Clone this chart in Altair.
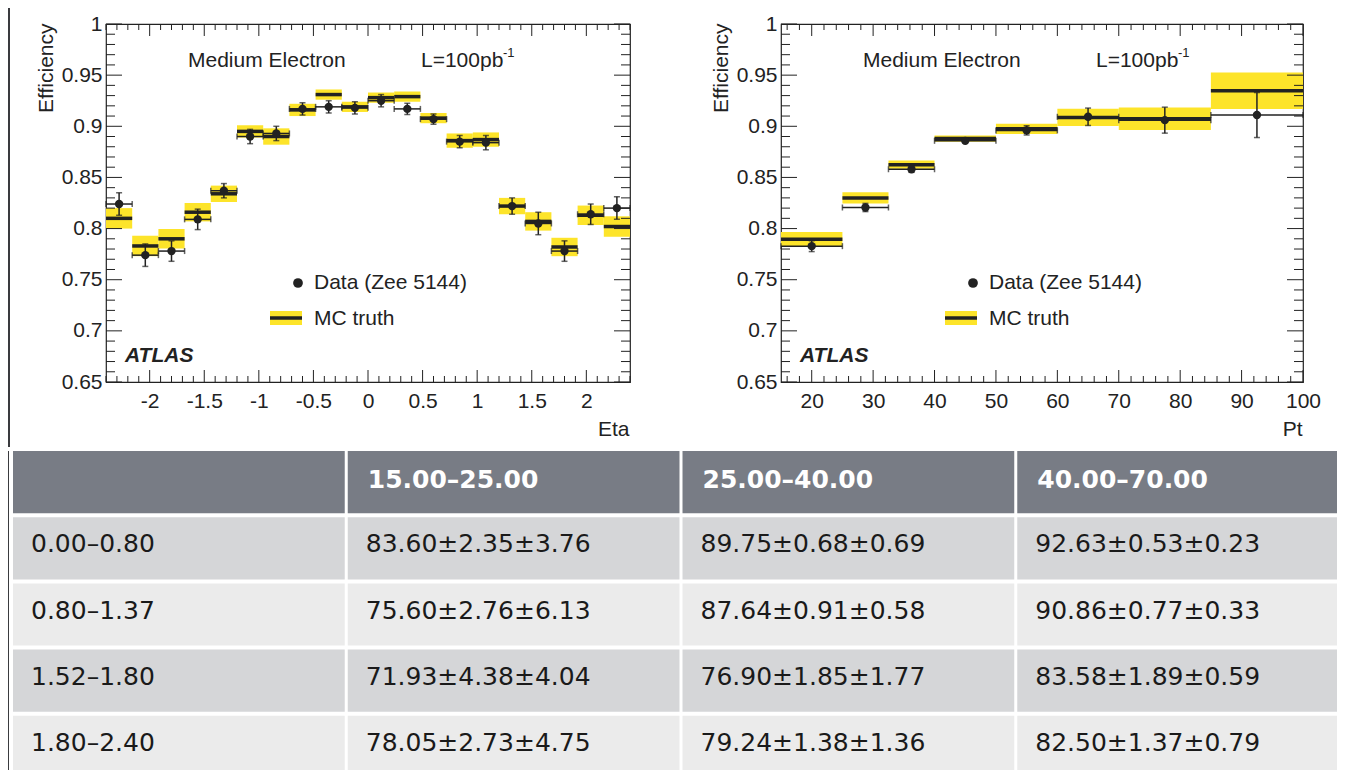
import altair as alt
import pandas as pd
import numpy as np

# ---------------- efficiency vs eta ----------------
eta_edges = [-2.4, -2.16, -1.92, -1.68, -1.44, -1.2, -0.96, -0.72, -0.48, -0.24, 0.0,
             0.24, 0.48, 0.72, 0.96, 1.2, 1.44, 1.68, 1.92, 2.16, 2.4]
eta_mc = [0.810, 0.783, 0.790, 0.816, 0.834, 0.895, 0.890, 0.916, 0.931, 0.919,
          0.928, 0.929, 0.908, 0.886, 0.887, 0.822, 0.807, 0.782, 0.813, 0.802]
eta_mc_err = [0.010, 0.010, 0.0095, 0.009, 0.008, 0.006, 0.008, 0.006, 0.005, 0.005,
              0.005, 0.005, 0.005, 0.007, 0.007, 0.008, 0.009, 0.009, 0.0095, 0.010]
eta_data = [0.824, 0.774, 0.778, 0.809, 0.837, 0.890, 0.893, 0.917, 0.919, 0.918,
            0.925, 0.917, 0.907, 0.885, 0.884, 0.822, 0.805, 0.778, 0.814, 0.820]
eta_data_err = [0.011, 0.011, 0.010, 0.010, 0.007, 0.007, 0.007, 0.006, 0.006, 0.006,
                0.006, 0.0055, 0.005, 0.006, 0.007, 0.008, 0.011, 0.010, 0.010, 0.011]

# ---------------- efficiency vs pt ----------------
pt_edges = [15, 25, 32.5, 40, 50, 60, 70, 85, 100]
pt_mc = [0.7895, 0.830, 0.8625, 0.888, 0.8975, 0.9087, 0.9073, 0.9347]
pt_mc_err = [0.0072, 0.0054, 0.004, 0.003, 0.005, 0.0085, 0.011, 0.0178]
pt_data = [0.7828, 0.8206, 0.858, 0.8858, 0.896, 0.9093, 0.906, 0.911]
pt_data_err = [0.0053, 0.004, 0.003, 0.0015, 0.0045, 0.0085, 0.0127, 0.022]

# ---------------- axis ticks / labels ----------------
eff_ticks = [0.65, 0.7, 0.75, 0.8, 0.85, 0.9, 0.95, 1.0]
eta_ticks = [-2, -1.5, -1, -0.5, 0, 0.5, 1, 1.5, 2]
pt_ticks = [20, 30, 40, 50, 60, 70, 80, 90, 100]

# ---------------- table ----------------
table_columns = ["15.00–25.00", "25.00–40.00", "40.00–70.00"]
table_rows = ["0.00–0.80", "0.80–1.37", "1.52–1.80", "1.80–2.40"]
table_cells = [
    ["83.60±2.35±3.76", "89.75±0.68±0.69", "92.63±0.53±0.23"],
    ["75.60±2.76±6.13", "87.64±0.91±0.58", "90.86±0.77±0.33"],
    ["71.93±4.38±4.04", "76.90±1.85±1.77", "83.58±1.89±0.59"],
    ["78.05±2.73±4.75", "79.24±1.38±1.36", "82.50±1.37±0.79"],
]

ROOT_FONT = "Liberation Sans"
TABLE_FONT = "DejaVu Sans"
INK = "#222222"
YELLOW = "#fde42a"
DARK = "#3a3b3f"
HEADER = "#787c85"
ROW_A = "#d5d6d8"
ROW_B = "#ebebeb"

H = 358
one = pd.DataFrame({"k": [0]})


def minor_ticks(lo, hi, step, majors_step):
    vals = np.round(np.arange(lo, hi + step / 2, step), 4)
    return [float(v) for v in vals if abs(v / majors_step - round(v / majors_step)) > 1e-6]


def make_plot(edges, mc, mc_err, dat, dat_err, xdom, xmajor, xminor, xtitle, W):
    df = pd.DataFrame({
        "lo": edges[:-1], "hi": edges[1:],
        "mid": [(a + b) / 2 for a, b in zip(edges[:-1], edges[1:])],
        "mc": mc, "mc_err": mc_err, "d": dat, "d_err": dat_err,
    })
    df["mc_lo"] = df["mc"] - df["mc_err"]
    df["mc_hi"] = df["mc"] + df["mc_err"]
    df["d_lo"] = df["d"] - df["d_err"]
    df["d_hi"] = df["d"] + df["d_err"]

    xs = alt.Scale(domain=xdom, nice=False, zero=False)
    ys = alt.Scale(domain=[0.65, 1.0], nice=False, zero=False)
    xaxis = alt.Axis(values=xmajor, labelExpr="toString(datum.value)", ticks=False, tickSize=0,
                     domain=False, grid=False, labelFont=ROOT_FONT, labelFontSize=21,
                     labelColor=INK, labelPadding=8, labelFlush=False, labelOverlap=False,
                     title=xtitle, titleFont=ROOT_FONT, titleFontSize=21, titleFontWeight="normal",
                     titleColor=INK, titleAlign="right", titleBaseline="alphabetic",
                     titleAngle=0, titleX=W - 1, titleY=53)
    yaxis = alt.Axis(values=eff_ticks, labelExpr="toString(datum.value)", ticks=False, tickSize=0,
                     domain=False, grid=False, labelFont=ROOT_FONT, labelFontSize=21,
                     labelColor=INK, labelPadding=4, labelFlush=False, labelOverlap=False,
                     title="Efficiency", titleFont=ROOT_FONT, titleFontSize=21,
                     titleFontWeight="normal", titleColor=INK, titleAngle=270,
                     titleAlign="right", titleBaseline="middle", titleX=-60, titleY=-1)

    base = alt.Chart(df)
    X = lambda f: alt.X(f, scale=xs, axis=xaxis)
    Y = lambda f: alt.Y(f, scale=ys, axis=yaxis)

    band = base.mark_rect(color=YELLOW).encode(x=X("lo:Q"), x2="hi", y=Y("mc_lo:Q"), y2="mc_hi")
    mcline = base.mark_rule(color=INK, strokeWidth=3.5).encode(x=X("lo:Q"), x2="hi", y=Y("mc:Q"))
    dxbar = base.mark_rule(color=INK, strokeWidth=1.5).encode(x=X("lo:Q"), x2="hi", y=Y("d:Q"))
    dybar = base.mark_rule(color=INK, strokeWidth=1.5).encode(x=X("mid:Q"), y=Y("d_lo:Q"), y2="d_hi")
    cap_lo = base.mark_tick(orient="horizontal", size=6, thickness=1.5, color=INK).encode(
        x=X("mid:Q"), y=Y("d_lo:Q"))
    cap_hi = base.mark_tick(orient="horizontal", size=6, thickness=1.5, color=INK).encode(
        x=X("mid:Q"), y=Y("d_hi:Q"))
    cap_l = base.mark_tick(orient="vertical", size=6, thickness=1.5, color=INK).encode(
        x=X("lo:Q"), y=Y("d:Q"))
    cap_r = base.mark_tick(orient="vertical", size=6, thickness=1.5, color=INK).encode(
        x=X("hi:Q"), y=Y("d:Q"))
    pts = base.mark_point(filled=True, size=70, color=INK, opacity=1).encode(
        x=X("mid:Q"), y=Y("d:Q"))

    # inward frame ticks
    xmaj = alt.Chart(pd.DataFrame({"v": xmajor}))
    xmin = alt.Chart(pd.DataFrame({"v": xminor}))
    ymaj = alt.Chart(pd.DataFrame({"v": eff_ticks}))
    ymin = alt.Chart(pd.DataFrame({"v": minor_ticks(0.65, 1.0, 0.01, 0.05)}))
    tk = dict(color=INK, strokeWidth=1)
    ticks = [
        xmaj.mark_rule(**tk).encode(x=X("v:Q"), y=alt.value(H), y2=alt.value(H - 12)),
        xmaj.mark_rule(**tk).encode(x=X("v:Q"), y=alt.value(0), y2=alt.value(12)),
        xmin.mark_rule(**tk).encode(x=X("v:Q"), y=alt.value(H), y2=alt.value(H - 6)),
        xmin.mark_rule(**tk).encode(x=X("v:Q"), y=alt.value(0), y2=alt.value(6)),
        ymaj.mark_rule(**tk).encode(y=Y("v:Q"), x=alt.value(0), x2=alt.value(16)),
        ymaj.mark_rule(**tk).encode(y=Y("v:Q"), x=alt.value(W - 16), x2=alt.value(W)),
        ymin.mark_rule(**tk).encode(y=Y("v:Q"), x=alt.value(0), x2=alt.value(9)),
        ymin.mark_rule(**tk).encode(y=Y("v:Q"), x=alt.value(W - 9), x2=alt.value(W)),
    ]

    txt = dict(font=ROOT_FONT, fontSize=21, color=INK, align="left", baseline="middle")
    ann = alt.Chart(one)
    notes = [
        ann.mark_text(text="Medium Electron", **txt).encode(x=alt.value(82), y=alt.value(37)),
        ann.mark_text(text="L=100pb", **txt).encode(x=alt.value(315), y=alt.value(37)),
        ann.mark_text(text="-1", font=ROOT_FONT, fontSize=13, color=INK, align="left",
                      baseline="middle").encode(x=alt.value(397), y=alt.value(29)),
        ann.mark_point(filled=True, size=95, color=INK, opacity=1).encode(
            x=alt.value(192), y=alt.value(259)),
        ann.mark_text(text="Data (Zee 5144)", **txt).encode(x=alt.value(208), y=alt.value(259)),
        ann.mark_rect(color=YELLOW).encode(x=alt.value(164), x2=alt.value(196),
                                           y=alt.value(287), y2=alt.value(301)),
        ann.mark_rule(color=INK, strokeWidth=3.5).encode(x=alt.value(164), x2=alt.value(196),
                                                         y=alt.value(294)),
        ann.mark_text(text="MC truth", **txt).encode(x=alt.value(208), y=alt.value(295)),
        ann.mark_text(text="ATLAS", font=ROOT_FONT, fontSize=21, fontWeight="bold",
                      fontStyle="italic", color=INK, align="left", baseline="middle").encode(
            x=alt.value(19), y=alt.value(332)),
    ]

    return alt.layer(band, mcline, dxbar, dybar, cap_lo, cap_hi, cap_l, cap_r, pts,
                     *ticks, *notes).properties(
        width=W, height=H,
        view=alt.ViewBackground(stroke=INK, strokeWidth=1.2, strokeOpacity=1))


left = make_plot(eta_edges, eta_mc, eta_mc_err, eta_data, eta_data_err, [-2.4, 2.4],
                 eta_ticks, minor_ticks(-2.4, 2.4, 0.1, 0.5), "Eta", 524)
right = make_plot(pt_edges, pt_mc, pt_mc_err, pt_data, pt_data_err, [15, 100],
                  pt_ticks, minor_ticks(16, 98, 2, 10), "Pt", 522)

# left page strip (upper part) - also fixes the bottom of the plot block
spacer = alt.Chart(one).mark_rect(color=DARK).encode(
    x=alt.value(-5), x2=alt.value(-3), y=alt.value(-16), y2=alt.value(423)
).properties(width=93, height=H)
spacer2 = alt.Chart(one).mark_point(opacity=0).encode(
    x=alt.value(0), y=alt.value(0)).properties(width=151, height=H)

top = alt.hconcat(spacer, left, spacer2, right, spacing=0, bounds="flush")

# ---------------- table chart ----------------
recs = []
for c, name in enumerate([""] + table_columns):
    recs.append({"r": 0, "c": c, "t": name})
for r, (lab, vals) in enumerate(zip(table_rows, table_cells), start=1):
    recs.append({"r": r, "c": 0, "t": lab})
    for c, v in enumerate(vals, start=1):
        recs.append({"r": r, "c": c, "t": v})
tdf = pd.DataFrame(recs)
tdf["shade"] = ["h" if r == 0 else ("a" if r % 2 == 1 else "b") for r in tdf["r"]]

xs_t = alt.Scale(domain=[0, 1, 2, 3], range=[0, 1336], paddingInner=0.009, paddingOuter=0)
ys_t = alt.Scale(domain=[0, 1, 2, 3, 4], range=[0, 327], paddingInner=0.06, paddingOuter=0)
tb = alt.Chart(tdf)
cells = tb.mark_rect(clip=True).encode(
    x=alt.X("c:O", scale=xs_t, axis=None),
    y=alt.Y("r:O", scale=ys_t, axis=None),
    color=alt.Color("shade:N", scale=alt.Scale(domain=["h", "a", "b"],
                                               range=[HEADER, ROW_A, ROW_B]), legend=None))
head_txt = tb.transform_filter("datum.r == 0").mark_text(
    clip=True, align="left", baseline="middle", font=TABLE_FONT, fontSize=25,
    fontWeight="bold", color="white", dx=20, dy=-2).encode(
    x=alt.X("c:O", bandPosition=0, scale=xs_t, axis=None),
    y=alt.Y("r:O", scale=ys_t, axis=None), text="t:N")
body_txt = tb.transform_filter("datum.r > 0").mark_text(
    clip=True, align="left", baseline="middle", font=TABLE_FONT, fontSize=25,
    color="#1a1a1a", dx=18, dy=-4).encode(
    x=alt.X("c:O", bandPosition=0, scale=xs_t, axis=None),
    y=alt.Y("r:O", scale=ys_t, axis=None), text="t:N")
strip_low = alt.Chart(one).mark_rect(color=DARK).encode(
    x=alt.value(-5), x2=alt.value(-4), y=alt.value(0), y2=alt.value(319))
table = alt.layer(cells, head_txt, body_txt, strip_low).properties(width=1324, height=319)

chart = alt.vconcat(top, table, spacing=4, bounds="full").properties(
    padding=0
).configure(background="white").configure_view(strokeOpacity=0)

chart.save("out.html", embed_options={"renderer": "svg", "actions": False})
